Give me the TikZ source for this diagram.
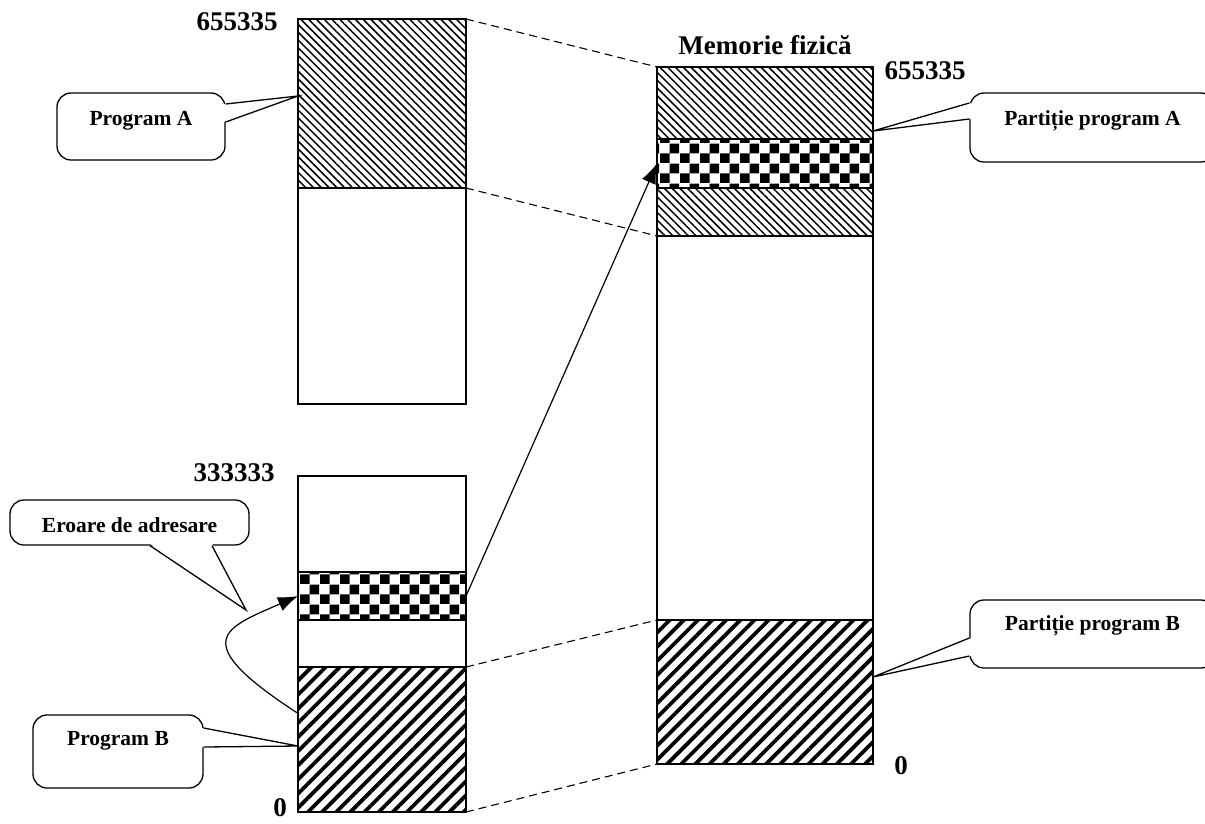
\documentclass[tikz,border=0pt]{standalone}
\usepackage{fontspec}
\setmainfont{Liberation Serif}
\usetikzlibrary{arrows.meta,calc,patterns,patterns.meta}
\pgfdeclarepatternformonly{checkers}{\pgfpointorigin}{\pgfqpoint{20pt}{20pt}}{\pgfqpoint{20pt}{20pt}}{%
  \pgfpathrectangle{\pgfpointorigin}{\pgfqpoint{10pt}{10pt}}%
  \pgfpathrectangle{\pgfqpoint{10pt}{10pt}}{\pgfqpoint{10pt}{10pt}}%
  \pgfusepath{fill}}
\begin{document}
\begin{tikzpicture}[x=1pt,y=-1pt,every node/.style={font=\bfseries},
  seg/.style={draw,line width=1.4pt,inner sep=0pt,outer sep=0pt,anchor=north west},
  fine/.style={seg,pattern={Lines[angle=-45,distance=5.5pt,line width=1.5pt]}},
  coarse/.style={seg,pattern={Lines[angle=45,distance=10pt,line width=3.8pt]}},
  chess/.style={seg,pattern=checkers},
  bubble/.style={draw,line width=1.3pt,rounded corners=14pt,fill=white,inner sep=0pt,font=\bfseries\fontsize{21.5}{24}\selectfont},
  lbl/.style={font=\bfseries\fontsize{27}{30}\selectfont},
  link/.style={dash pattern=on 8pt off 5pt,line width=1.1pt},
  jump/.style={line width=1.2pt,-{Latex[length=20pt,width=15pt]}},
  wedge/.style={line width=1.3pt}]
\useasboundingbox (0,0) rectangle (1205,823);
% left memory
\node[fine,minimum width=168,minimum height=169] (progA) at (298,19) {};
\node[seg,minimum width=168,minimum height=216] (freeA) at (298,188) {};
\node[seg,minimum width=168,minimum height=96] (freeB) at (298,476) {};
\node[chess,minimum width=168,minimum height=48] (errB) at (298,572) {};
\node[seg,minimum width=168,minimum height=47] (gapB) at (298,620) {};
\node[coarse,minimum width=168,minimum height=145] (progB) at (298,667) {};
% physical memory
\node[fine,minimum width=216,minimum height=72] (partA) at (657,67) {};
\node[chess,minimum width=216,minimum height=49] (errA) at (657,139) {};
\node[fine,minimum width=216,minimum height=48] (partA2) at (657,188) {};
\node[seg,minimum width=216,minimum height=384] (freeM) at (657,236) {};
\node[coarse,minimum width=216,minimum height=144] (partB) at (657,620) {};
% labels
\node[lbl] (topA) at (237,22) {655335};
\node[lbl] (topB) at (234,473) {333333};
\node[lbl] (zeroL) at (280,808) {0};
\node[lbl] (title) at (765,45) {Memorie fizică};
\node[lbl] (topM) at (925,71) {655335};
\node[lbl] (zeroR) at (901,766) {0};
% mapping
\draw[link] (progA.north east) -- (partA.north west);
\draw[link] (progA.south east) -- (partA2.south west);
\draw[link] (progB.north east) -- (partB.north west);
\draw[link] (progB.south east) -- (partB.south west);
\draw[jump] (errB.east) -- (errA.west);
\coordinate (bend) at ($(progB.north west)!0.32!(progB.south west)$);
\draw[jump] (bend) .. controls (185,640) and (225,628) .. (errB.west);
% callouts
\node[bubble,minimum width=168,text height=32pt,text depth=35pt] (cA) at (141,126.5) {Program A};
\node[bubble,minimum width=245,text height=32pt,text depth=37pt] (cPA) at (1092.5,127.5) {Partiție program A};
\node[bubble,minimum width=239,text height=32pt,text depth=13pt] (cE) at (129.5,522.5) {Eroare de adresare};
\node[bubble,minimum width=170,text height=30pt,text depth=43pt] (cB) at (118,751.5) {Program B};
\node[bubble,minimum width=245,text height=30pt,text depth=38pt] (cPB) at (1092.5,634) {Partiție program B};
\coordinate (tipA) at (progA.west |- 0,96);
\coordinate (tipPA) at (partA.east |- 0,131);
\coordinate (tipE) at (246,610);
\coordinate (tipB) at (progB.west |- 0,746);
\coordinate (tipPB) at (partB.east |- 0,677);
\fill[white] ($(cA.east |- 0,104)+(-2,0)$) -- (tipA) -- ($(cA.east |- 0,122)+(-2,0)$) -- cycle;
\draw[wedge] (cA.east |- 0,104) -- (tipA) -- (cA.east |- 0,122);
\fill[white] ($(cPA.west |- 0,103)+(2,0)$) -- (tipPA) -- ($(cPA.west |- 0,119)+(2,0)$) -- cycle;
\draw[wedge] (cPA.west |- 0,103) -- (tipPA) -- (cPA.west |- 0,119);
\fill[white] ($(150,0 |- cE.south)+(0,-2)$) -- (tipE) -- ($(212,0 |- cE.south)+(0,-2)$) -- cycle;
\draw[wedge] (150,0 |- cE.south) -- (tipE) -- (212,0 |- cE.south);
\fill[white] ($(cB.east |- 0,728)+(-2,0)$) -- (tipB) -- ($(cB.east |- 0,747)+(-2,0)$) -- cycle;
\draw[wedge] (cB.east |- 0,728) -- (tipB) -- (cB.east |- 0,747);
\fill[white] ($(cPB.west |- 0,638)+(2,0)$) -- (tipPB) -- ($(cPB.west |- 0,656)+(2,0)$) -- cycle;
\draw[wedge] (cPB.west |- 0,638) -- (tipPB) -- (cPB.west |- 0,656);
\end{tikzpicture}
\end{document}
